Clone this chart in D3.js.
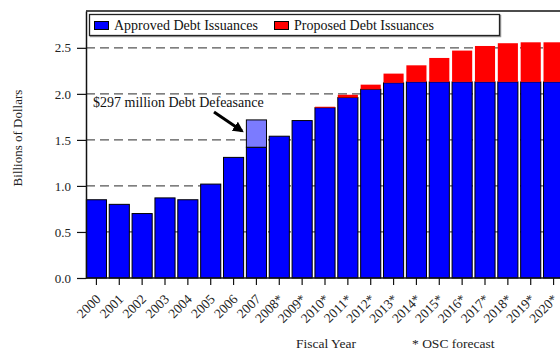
<!DOCTYPE html>
<html>
<head>
<meta charset="utf-8">
<script src="https://cdn.jsdelivr.net/npm/d3@7"></script>
<style>
  body { margin: 0; background: #fff; }
  svg { display: block; font-family: "Liberation Serif", "Times New Roman", serif; }
  .grid line { stroke: #555; stroke-width: 1.2; stroke-dasharray: 9,5; }
</style>
</head>
<body>
<svg id="chart" width="560" height="351"></svg>
<script>
// fiscal years (asterisk = OSC forecast)
var years = ["2000", "2001", "2002", "2003", "2004", "2005", "2006", "2007", "2008*", "2009*", "2010*",
    "2011*", "2012*", "2013*", "2014*", "2015*", "2016*", "2017*", "2018*", "2019*", "2020*"];
// billions of dollars
var approved = [0.85, 0.80, 0.70, 0.87, 0.85, 1.02, 1.31, 1.42, 1.54, 1.71, 1.85,
    1.96, 2.05, 2.12, 2.13, 2.13, 2.13, 2.13, 2.13, 2.13, 2.13];
var proposed = [0, 0, 0, 0, 0, 0, 0, 0, 0, 0, 0.01,
    0.03, 0.05, 0.10, 0.18, 0.26, 0.34, 0.39, 0.42, 0.43, 0.43];
var defeasance = { year: "2007", value: 0.297 };
var yTicks = [0, 0.5, 1.0, 1.5, 2.0, 2.5];

var svg = d3.select("#chart"),
    width = +svg.attr("width"),
    height = +svg.attr("height");

var x = d3.scaleBand()
    .domain(years)
    .range([85, 565])
    .paddingInner(0.12)
    .paddingOuter(0.06);

var y = d3.scaleLinear()
    .domain([0, 2.9])
    .range([278, 11]);

var axisX = 86;

// title (cropped off the top in the original, only its foot shows)
svg.append("text")
    .attr("x", 326)
    .attr("y", -0.2)
    .attr("text-anchor", "middle")
    .style("font-family", "'Liberation Sans', Arial, sans-serif")
    .style("font-size", "18px")
    .style("fill", "#999")
    .text("Annual Debt Issuances");

// dashed grid
svg.append("g")
    .attr("class", "grid")
    .selectAll("line")
    .data(yTicks.filter(function(d) { return d > 0; }))
    .enter().append("line")
    .attr("x1", axisX)
    .attr("x2", width)
    .attr("y1", function(d) { return y(d); })
    .attr("y2", function(d) { return y(d); });

// top frame
svg.append("line")
    .attr("x1", axisX).attr("x2", width)
    .attr("y1", y(2.9)).attr("y2", y(2.9))
    .style("stroke", "#111").style("stroke-width", 1.5);

var data = years.map(function(yr, i) {
    return { year: yr, approved: approved[i], proposed: proposed[i] };
});

var bars = svg.append("g").attr("class", "bars");

// approved
bars.selectAll("rect.approved")
    .data(data)
    .enter().append("rect")
    .attr("class", "approved")
    .attr("x", function(d) { return x(d.year); })
    .attr("width", x.bandwidth())
    .attr("y", function(d) { return y(d.approved); })
    .attr("height", function(d) { return y(0) - y(d.approved); })
    .style("fill", "#0000ff")
    .style("stroke", "#000")
    .style("stroke-width", 1);

// proposed on top
bars.selectAll("rect.proposed")
    .data(data.filter(function(d) { return d.proposed > 0; }))
    .enter().append("rect")
    .attr("class", "proposed")
    .attr("x", function(d) { return x(d.year); })
    .attr("width", x.bandwidth())
    .attr("y", function(d) { return y(d.approved + d.proposed); })
    .attr("height", function(d) { return y(d.approved) - y(d.approved + d.proposed); })
    .style("fill", "#ff0000");

// defeasance segment
var defBase = approved[years.indexOf(defeasance.year)];
bars.append("rect")
    .attr("x", x(defeasance.year))
    .attr("width", x.bandwidth())
    .attr("y", y(defBase + defeasance.value))
    .attr("height", y(defBase) - y(defBase + defeasance.value))
    .style("fill", "#7b7bff")
    .style("stroke", "#000")
    .style("stroke-width", 1);

// y axis
var yAxis = svg.append("g")
    .attr("transform", "translate(" + axisX + ",0)")
    .call(d3.axisLeft(y).tickValues(yTicks).tickFormat(d3.format(".1f")).tickSize(9).tickPadding(6).tickSizeOuter(0));
yAxis.select(".domain").style("stroke", "#111").style("stroke-width", 1.5);
yAxis.selectAll(".tick line").style("stroke", "#111").style("stroke-width", 1.2);
yAxis.selectAll("text")
    .style("font-family", "'Liberation Serif', serif")
    .style("font-size", "13px")
    .style("fill", "#222");

// x axis
var xAxis = svg.append("g")
    .attr("transform", "translate(0," + y(0) + ")")
    .call(d3.axisBottom(x).tickSize(7).tickSizeOuter(0));
xAxis.select(".domain")
    .attr("d", "M" + axisX + ",0H" + width)
    .style("stroke", "#111").style("stroke-width", 1.5);
xAxis.selectAll(".tick line").style("stroke", "#111").style("stroke-width", 1.2);
xAxis.selectAll("text")
    .style("font-family", "'Liberation Serif', serif")
    .style("font-size", "13.5px")
    .style("fill", "#222")
    .attr("text-anchor", "end")
    .attr("dy", null)
    .attr("y", 0)
    .attr("transform", "translate(5,22) rotate(-45)");

// axis titles
svg.append("text")
    .attr("transform", "translate(17,138) rotate(-90)")
    .attr("text-anchor", "middle")
    .attr("dy", "0.35em")
    .style("font-size", "13px")
    .style("fill", "#222")
    .text("Billions of Dollars");

svg.append("text")
    .attr("x", 326)
    .attr("y", 348)
    .attr("text-anchor", "middle")
    .style("font-size", "13.5px")
    .style("fill", "#222")
    .text("Fiscal Year");

svg.append("text")
    .attr("x", 412)
    .attr("y", 348)
    .style("font-size", "13.5px")
    .style("fill", "#222")
    .text("* OSC forecast");

// annotation
svg.append("defs").append("marker")
    .attr("id", "arrow")
    .attr("viewBox", "0 0 10 10")
    .attr("refX", 8)
    .attr("refY", 5)
    .attr("markerWidth", 3.6)
    .attr("markerHeight", 3.6)
    .attr("orient", "auto")
    .append("path")
    .attr("d", "M0,0L10,5L0,10z")
    .style("fill", "#000");

svg.append("text")
    .attr("x", 93)
    .attr("y", 107)
    .style("font-size", "14px")
    .style("fill", "#111")
    .text("$297 million Debt Defeasance");

svg.append("line")
    .attr("x1", 214).attr("y1", 112)
    .attr("x2", 242).attr("y2", 131)
    .style("stroke", "#000")
    .style("stroke-width", 3)
    .attr("marker-end", "url(#arrow)");

// legend
var legend = svg.append("g").attr("class", "legend");
legend.append("rect")
    .attr("x", 90.5).attr("y", 15.5)
    .attr("width", 410).attr("height", 21)
    .style("fill", "none").style("stroke", "#999").style("stroke-width", 1.5);
legend.append("rect")
    .attr("x", 89.5).attr("y", 14.5)
    .attr("width", 410).attr("height", 21)
    .style("fill", "#fff").style("stroke", "#222").style("stroke-width", 1.3);

var legendItems = [
    { label: "Approved Debt Issuances", color: "#0000ff", x: 94 },
    { label: "Proposed Debt Issuances", color: "#ff0000", x: 274 }
];
var li = legend.selectAll("g.item")
    .data(legendItems)
    .enter().append("g")
    .attr("class", "item")
    .attr("transform", function(d) { return "translate(" + d.x + ",0)"; });
li.append("rect")
    .attr("x", 0.5).attr("y", 21.5)
    .attr("width", 14).attr("height", 8)
    .style("fill", function(d) { return d.color; })
    .style("stroke", "#000");
li.append("text")
    .attr("x", 20)
    .attr("y", 30)
    .style("font-size", "14px")
    .style("fill", "#111")
    .text(function(d) { return d.label; });
</script>
</body>
</html>
